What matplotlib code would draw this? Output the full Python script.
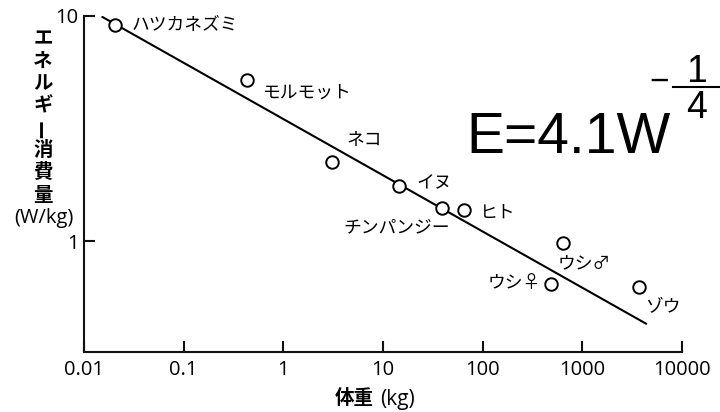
import matplotlib
matplotlib.use("Agg")
import matplotlib.pyplot as plt
from matplotlib.lines import Line2D

# ---- data ----
animals = ["ハツカネズミ", "モルモット", "ネコ", "イヌ", "チンパンジー", "ヒト", "ウシ♂", "ウシ♀", "ゾウ"]
weight_kg = [0.0205, 0.43, 3.1, 14.4, 38.7, 64.7, 640, 483, 3700]
energy_wkg = [9.1, 5.17, 2.24, 1.75, 1.40, 1.37, 0.98, 0.643, 0.627]

fit_w = [0.015, 4440]
fit_e = [9.9, 0.428]

x_ticks = [0.01, 0.1, 1, 10, 100, 1000, 10000]
x_ticklabels = ["0.01", "0.1", "1", "10", "100", "1000", "10000"]
y_ticks = [1, 10]
y_ticklabels = ["1", "10"]

# ---- label placement (pixel offsets from each point) ----
label_offsets = [(17, 0), (16, -13), (14, 23), (18, 3), (8, -19), (16, -3), (-5, -20), (-10, 1), (6, -20)]
label_ha = ["left", "left", "left", "left", "right", "left", "left", "right", "left"]

W, H = 720, 412
fig = plt.figure(figsize=(W / 100, H / 100), dpi=100)
ax = fig.add_axes([84 / W, 60 / H, (682 - 84) / W, (396.5 - 60) / H])
ax.set_xscale("log")
ax.set_yscale("log")
ax.set_xlim(0.01, 10000)
ax.set_ylim(0.322, 10)

ax.plot(fit_w, fit_e, color="black", lw=1.5, solid_capstyle="butt")
ax.plot(weight_kg, energy_wkg, linestyle="none", marker="o", markersize=9,
        markerfacecolor="white", markeredgecolor="black", markeredgewidth=1.4, zorder=3)

for name, x, y, off, ha in zip(animals, weight_kg, energy_wkg, label_offsets, label_ha):
    ax.annotate(name, (x, y), xytext=off, textcoords="offset pixels",
                ha=ha, va="center", fontsize=12.8,
                family=["Noto Sans CJK JP", "DejaVu Sans"], color="black")

for s in ["top", "right"]:
    ax.spines[s].set_visible(False)
for s in ["left", "bottom"]:
    ax.spines[s].set_linewidth(1.5)
    ax.spines[s].set_color("#111111")

ax.set_xticks(x_ticks)
ax.set_xticklabels(x_ticklabels)
ax.set_yticks(y_ticks)
ax.set_yticklabels(y_ticklabels)
ax.minorticks_off()
ax.tick_params(axis="both", direction="in", length=8, width=1.5, color="#111111",
               labelsize=14.5)
ax.tick_params(axis="x", pad=6)
ax.tick_params(axis="y", pad=4)
for lab in ax.get_xticklabels() + ax.get_yticklabels():
    lab.set_fontfamily("Open Sans")
ax.patch.set_alpha(0)

def ftext(px, py, s, **kw):
    return fig.text(px / W, 1 - py / H, s, **kw)

cjk = ["Noto Sans CJK JP", "DejaVu Sans"]

# vertical y-axis label
ylab_chars = ["エ", "ネ", "ル", "ギ", "ー", "消", "費", "量"]
y0, step = 39, 22.3
for i, ch in enumerate(ylab_chars):
    rot = 90 if ch == "ー" else 0
    ftext(43, y0 + i * step, ch, ha="center", va="center", fontsize=14,
          fontweight="bold", family=cjk, rotation=rot)
ftext(44, 218, "(W/kg)", ha="center", va="center", fontsize=14.5, family=["Open Sans"])

# x-axis label
ftext(374, 399, "体重", ha="right", va="center", fontsize=14, fontweight="bold", family=cjk)
ftext(380, 399, "(kg)", ha="left", va="center", fontsize=15, family=["Open Sans"])

# formula
ftext(466, 153, "E=4.1W", ha="left", va="baseline", fontsize=41, family=["Liberation Sans"])
ftext(659, 82, "\u2212", ha="center", va="center", fontsize=24, family=["Liberation Sans"])
ftext(697, 82, "1", ha="center", va="baseline", fontsize=27, family=["Liberation Sans"])
ftext(697, 118, "4", ha="center", va="baseline", fontsize=27, family=["Liberation Sans"])
fig.add_artist(Line2D([673 / W, 720 / W], [1 - 87 / H, 1 - 87 / H], color="black", lw=1.5,
                      transform=fig.transFigure))

fig.savefig("out.png", dpi=100, facecolor="white")
